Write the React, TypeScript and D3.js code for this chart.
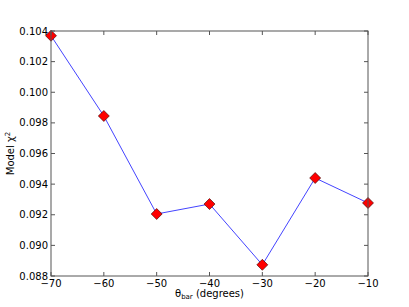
import * as d3 from "d3";

const angles = [-70, -60, -50, -40, -30, -20, -10];
const chi2 = [0.10369, 0.09845, 0.09205, 0.0927, 0.08873, 0.0944, 0.09277];
const xTicks = [-70, -60, -50, -40, -30, -20, -10];
const yTicks = [0.088, 0.09, 0.092, 0.094, 0.096, 0.098, 0.1, 0.102, 0.104];

const W = 409;
const H = 307;
const m = { left: 51, top: 31, right: 368, bottom: 276 };

const fmtMinus = (s: string) => s.replace("-", "\u2212");

export default function App() {
  const x = d3.scaleLinear().domain([-70, -10]).range([m.left, m.right]);
  const y = d3.scaleLinear().domain([0.088, 0.104]).range([m.bottom, m.top]);
  const line = d3
    .line<number>()
    .x((_, i) => x(angles[i]))
    .y((d) => y(d));

  const font = "DejaVu Sans, sans-serif";
  const tk = 4;

  return (
    <svg
      width={W}
      height={H}
      style={{ position: "absolute", left: 0, top: 0, background: "#fff" }}
      fontFamily={font}
    >
      <path d={line(chi2) ?? ""} fill="none" stroke="#4444ff" strokeWidth={1} />
      {chi2.map((d, i) => {
        const cx = x(angles[i]);
        const cy = y(d);
        const r = 5.5;
        return (
          <path
            key={i}
            d={`M${cx},${cy - r}L${cx + r},${cy}L${cx},${cy + r}L${cx - r},${cy}Z`}
            fill="#ff0000"
            stroke="#330000"
            strokeWidth={0.6}
          />
        );
      })}
      <rect
        x={m.left}
        y={m.top}
        width={m.right - m.left}
        height={m.bottom - m.top}
        fill="none"
        stroke="#555"
        strokeWidth={1}
      />
      {xTicks.map((t) => (
        <g key={"x" + t}>
          <line x1={x(t)} x2={x(t)} y1={m.bottom} y2={m.bottom - tk} stroke="#555" />
          <line x1={x(t)} x2={x(t)} y1={m.top} y2={m.top + tk} stroke="#555" />
          <text x={x(t)} y={m.bottom + 11} fontSize={10} textAnchor="middle" fill="#000">
            {fmtMinus(String(t))}
          </text>
        </g>
      ))}
      {yTicks.map((t) => (
        <g key={"y" + t}>
          <line x1={m.left} x2={m.left + tk} y1={y(t)} y2={y(t)} stroke="#555" />
          <line x1={m.right} x2={m.right - tk} y1={y(t)} y2={y(t)} stroke="#555" />
          <text x={m.left - 3} y={y(t) + 3.5} fontSize={10} textAnchor="end" fill="#000">
            {d3.format(".3f")(t)}
          </text>
        </g>
      ))}
      <text x={(m.left + m.right) / 2} y={297} fontSize={10} textAnchor="middle" fill="#000">
        θ<tspan fontSize={7} dy={2}>bar</tspan>
        <tspan dy={-2}> (degrees)</tspan>
      </text>
      <text
        transform={`translate(14,${(m.top + m.bottom) / 2}) rotate(-90)`}
        fontSize={10}
        textAnchor="middle"
        fill="#000"
      >
        Model χ<tspan fontSize={7} dy={-4}>2</tspan>
      </text>
    </svg>
  );
}
